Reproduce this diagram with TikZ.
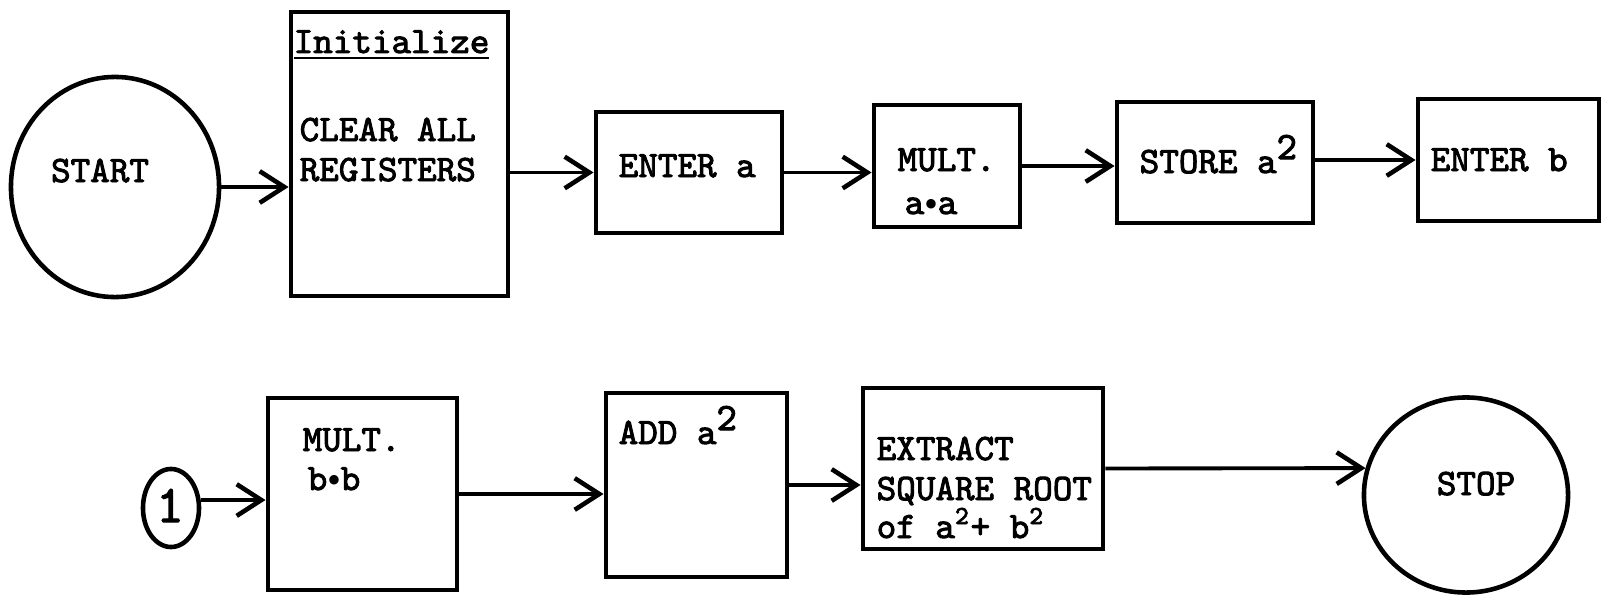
\documentclass[tikz,border=0pt]{standalone}
\usepackage{fontspec}
\setmonofont{Latin Modern Mono}[FakeBold=2.5]
\usetikzlibrary{shapes.geometric,arrows.meta,fit}
\begin{document}
\begin{tikzpicture}[x=0.01cm,y=-0.01cm,
  box/.style={draw,line width=1.4pt,inner sep=0pt,fit={#1}},
  circ/.style={draw,ellipse,line width=1.3pt,inner sep=0pt},
  txt/.style={font=\ttfamily\fontsize{10.6}{12}\selectfont,inner sep=0pt,anchor=base west},
  arr/.style={line width=1.1pt,-{Straight Barb[length=7pt,width=9pt,line width=1.3pt]}}]
\newcommand\mdot{\raisebox{1.3pt}{\fontsize{6}{8}\selectfont$\bullet$}}
\useasboundingbox (0,0) rectangle (1602,600);
% row 1
\node[circ,minimum width=2.08cm,minimum height=2.2cm] (start) at (115,187) {};
\node[txt,anchor=base] (startt) at (100,182) {START};
\node[box={(291,12) (508,296)}] (init) {};
\node[txt] (initt) at (293,53) {\underline{Initialize}};
\node[txt] (clear) at (299,141) {CLEAR ALL};
\node[txt] (regs) at (299,181) {REGISTERS};
\node[box={(596,112) (782,233)}] (enta) {};
\node[txt] (entat) at (618,177) {ENTER a};
\node[box={(874,105) (1020,227)}] (mult) {};
\node[txt] (multt) at (897,171) {MULT.};
\node[txt] (aa) at (904,214) {a\mdot a};
\node[box={(1117,102) (1313,223)}] (store) {};
\node[txt] (storet) at (1139,173) {STORE a\textsuperscript{\fontsize{11}{12}\selectfont 2}};
\node[box={(1418,99) (1599,221)}] (entb) {};
\node[txt] (entbt) at (1430,171) {ENTER b};
% row 2
\node[circ,minimum width=0.56cm,minimum height=0.78cm] (one) at (171,508) {};
\node[txt,anchor=base,font=\ttfamily\fontsize{15}{16}\selectfont] (onet) at (170,522) {1};
\node[box={(268,398) (457,590)}] (mb) {};
\node[txt] (mbt) at (302,451) {MULT.};
\node[txt] (bb) at (307,490) {b\mdot b};
\node[box={(606,393) (787,577)}] (add) {};
\node[txt] (addt) at (618,444) {ADD a\textsuperscript{\fontsize{11}{12}\selectfont 2}};
\node[box={(863,388) (1103,549)}] (ext) {};
\node[txt] (ext1) at (876,460) {EXTRACT};
\node[txt] (ext2) at (876,500) {SQUARE ROOT};
\node[txt] (ext3) at (876,538) {of a\textsuperscript{2}+ b\textsuperscript{2}};
\node[circ,minimum width=2.04cm,minimum height=1.95cm] (stop) at (1466,495) {};
\node[txt,anchor=base] (stopt) at (1476,495) {STOP};
% connectors
\draw[arr] (start.east) -- (start.east -| init.west);
\draw[arr] (init.east |- enta.west) -- (enta.west);
\draw[arr] (enta.east) -- (enta.east -| mult.west);
\draw[arr] (mult.east) -- (mult.east -| store.west);
\draw[arr] (store.east |- entb.west) -- (entb.west);
\draw[arr] (one.15) -- (one.15 -| mb.west);
\draw[arr] (mb.east) -- (mb.east -| add.west);
\draw[arr] (add.east) -- (add.east -| ext.west);
\draw[arr] (ext.east) -- (stop.165);
\end{tikzpicture}
\end{document}
